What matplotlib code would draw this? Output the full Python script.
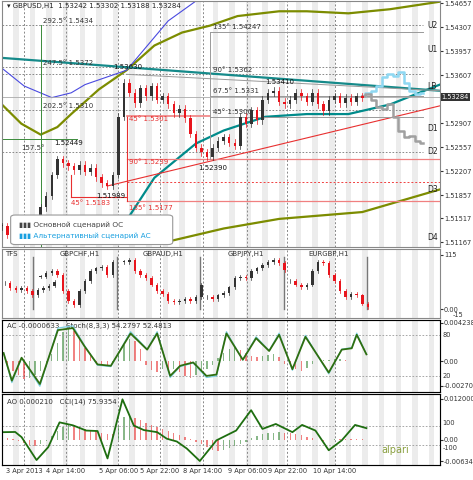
import matplotlib.pyplot as plt
import numpy as np
from matplotlib.patches import FancyBboxPatch

# main chart closes (every 2 bars)
main_bars = np.arange(0, 132, 2)
main_close = [1.5140, 1.5128, 1.5145, 1.5135, 1.5120, 1.5132, 1.5150, 1.5168, 1.5185, 1.5215, 1.5238,
              1.5232, 1.5228, 1.5222, 1.5230, 1.5220, 1.5226, 1.5212, 1.5203, 1.5199, 1.5215, 1.5300,
              1.5350, 1.5335, 1.5320, 1.5342, 1.5330, 1.5345, 1.5325, 1.5330, 1.5318, 1.5305, 1.5312,
              1.5298, 1.5275, 1.5255, 1.5248, 1.5242, 1.5255, 1.5265, 1.5270, 1.5262, 1.5258, 1.5300,
              1.5290, 1.5310, 1.5295, 1.5325, 1.5335, 1.5338, 1.5322, 1.5318, 1.5325, 1.5335, 1.5330,
              1.5322, 1.5335, 1.5318, 1.5308, 1.5325, 1.5330, 1.5320, 1.5328, 1.5322, 1.5330, 1.5328]
fc_bars = np.arange(130, 154, 2)
main_scen = [1.5330, 1.5333, 1.5325, 1.5315, 1.5312, 1.5318, 1.5300, 1.5280, 1.5270, 1.5272, 1.5265, 1.5262]
alt_scen = [1.5330, 1.5335, 1.5338, 1.5345, 1.5358, 1.5362, 1.5360, 1.5365, 1.5350, 1.5338, 1.5333, 1.5335]

band_bars = [0, 7, 14, 20, 25, 35, 45, 55, 65, 75, 85, 100, 110, 125, 140, 158]
band_up = [1.5318, 1.5290, 1.5274, 1.5285, 1.5304, 1.5340, 1.5368, 1.5404, 1.5423, 1.5433, 1.5447,
           1.5454, 1.5454, 1.5451, 1.5457, 1.5468]
mid_bars = [40, 55, 70, 80, 95, 110, 125, 140, 158]
mid_line = [1.5118, 1.5211, 1.5261, 1.5280, 1.5300, 1.5304, 1.5304, 1.5318, 1.5347]
low_bars = [60, 80, 100, 130, 158]
band_low = [1.5118, 1.5137, 1.5151, 1.5161, 1.5194]
blue_bars = [0, 8, 18, 25, 30, 45, 60, 70]
blue_line = [1.5371, 1.5345, 1.5328, 1.5335, 1.5347, 1.5368, 1.5440, 1.5469]

price_ticks = [1.54657, 1.54307, 1.53957, 1.53607, 1.52907, 1.52557, 1.52207, 1.51857, 1.51517, 1.51167]
date_pos = [8, 23, 42, 57, 72.5, 88.5, 103, 120]
date_lab = ['3 Apr 2013', '4 Apr 14:00', '5 Apr 06:00', '5 Apr 22:00', '8 Apr 14:00',
            '9 Apr 06:00', '9 Apr 22:00', '10 Apr 14:00']

tfs_names = ['TFS', 'GBPCHF,H1', 'GBPAUD,H1', 'GBPJPY,H1', 'EURGBP,H1']
tfs_start = [0, 13, 43, 73, 103]
tfs_vals = [[55, 45, 40, 45, 38, 30, 40, 45, 50, 58],
            [69, 76, 80, 73, 39, 18, 8, 39, 59, 80, 86, 90, 73, 100],
            [100, 103, 80, 73, 66, 52, 39, 32, 18, 15, 18, 22, 18, 25, 52],
            [25, 22, 29, 35, 46, 66, 69, 66, 80, 86, 93, 100, 103, 97, 83],
            [59, 52, 46, 52, 80, 100, 97, 73, 59, 39, 25, 32, 29, 12, 5]]

st_bars = [0.6, 3.6, 7.1, 13.7, 20.2, 25.6, 29.8, 34.5, 39.3, 46.4, 52.4, 56, 60.7, 64.3, 69, 73.8,
           77.4, 81, 86.9, 91.7, 96.4, 100, 104.8, 109.5, 117.9, 122.6, 126.2, 128, 131.5]
stoch = [54, 13, 47, 8, 88, 91, 64, 37, 35, 83, 59, 83, 20, 35, 40, 20,
         22, 83, 44, 76, 57, 81, 30, 78, 25, 59, 61, 81, 52]
ac_bars = np.arange(0, 132, 2)
ac = [-0.4, -0.6, -1.0, -1.5, -1.9, -1.8, -1.5, -1.0, -0.6, 0.8, 2.0, 3.2, 3.6, 3.3, 2.6, 1.5,
      0.9, -0.2, -0.3, -0.4, -0.2, 1.0, 1.8, 2.5, 2.2, 1.4, -0.4, -0.9, -1.2, -0.8, -1.0, -0.8,
      -1.2, -1.6, -1.8, -1.5, -1.2, -0.8, -0.4, 0.4, 0.9, 1.4, 1.6, 1.2, 0.9, 0.6, 0.5, 0.6,
      0.7, 0.8, 0.5, -0.3, -0.5, -0.8, -1.0, -0.7, -0.3, 0.1, 0.15, 0.2, 0.25, 0.3, 0.2, 0.1, 0.05, 0.05]
ao = [0.6, 0.4, 0.2, -0.5, -1.0, -1.5, -1.8, -1.2, -0.5, 1.0, 2.5, 3.8, 4.5, 4.2, 3.6, 3.2,
      2.8, 2.4, 2.0, 1.6, 1.5, 4.0, 6.5, 6.8, 6.2, 5.6, 5.0, 4.4, 3.8, 3.2, 2.6, 2.0,
      1.4, 0.8, 0.2, -0.6, -1.4, -2.2, -3.0, -3.5, -3.2, -2.6, -1.8, -1.2, -0.6, 0.4, 1.0, 1.5,
      1.8, 2.0, 2.2, 2.0, 1.8, 1.5, 1.2, 0.8, 0.4, 0.0, -0.3, -0.2, 0.1, 0.1, 0.1, 0.1, 0.1, 0.1]
cci_bars = [0.6, 4.8, 7.1, 12.5, 16.7, 20.8, 25.6, 30.4, 34.5, 38.1, 43.5, 47.6, 51.2, 56.0, 59.5,
            63.1, 66.7, 71.4, 77.4, 84.5, 89.9, 94.0, 98.8, 104.8, 108.3, 113.1, 117.9, 122.6,
            127.4, 131.5]
cci = [38, 40, -14, -255, -120, 141, 110, 55, 50, -238, 383, 107, 60, 38, -31,
       -60, -134, -265, -48, 55, 269, 72, 124, 38, 114, 55, -152, -48, 114, 80]

fig = plt.figure(figsize=(4.73, 4.8), dpi=100)
W, H = 473, 480
def mk(top, bot):
    return fig.add_axes([0.004, 1 - bot / H, 438 / W, (bot - top) / H])
ax1 = mk(1, 247); ax2 = mk(249, 318); ax3 = mk(320, 392); ax4 = mk(394, 465)

def style_right(ax):
    ax.yaxis.tick_right()
    ax.tick_params(labelsize=4.8, length=2, pad=1, colors='#333333')

for ax in (ax1, ax2, ax3, ax4):
    ax.set_xlim(0, 158)
    for b in range(4, 158, 6):
        ax.axvspan(b, b + 2, color='#ececec', lw=0, zorder=0)
    for p in date_pos:
        ax.axvline(p, color='#888888', ls=(0, (2, 2)), lw=0.7, zorder=1)
    style_right(ax)
    ax.set_xticks([])
    for s in ax.spines.values():
        s.set_color('#888888')

def candles(ax, xs, closes, w, wick):
    prev = closes[0]
    for x, c in zip(xs, closes):
        col = '#e8141c' if c < prev else '#333333'
        lo, hi = min(prev, c), max(prev, c)
        ax.plot([x, x], [lo - wick, hi + wick], color=col, lw=0.5, zorder=3)
        ax.bar(x, max(hi - lo, wick * 0.3), bottom=lo, width=w, color=col, lw=0, zorder=3)
        prev = c

# main panel
ax1.set_ylim(1.5110, 1.5469)
ax1.set_yticks(price_ticks)
ax1.set_yticklabels(['%.5f' % t for t in price_ticks])
ax1.plot(band_bars, band_up, color='#7c8c00', lw=1.6, zorder=2)
ax1.plot(low_bars, band_low, color='#7c8c00', lw=1.6, zorder=2)
ax1.plot(mid_bars, mid_line, color='#008b8b', lw=1.6, zorder=2)
ax1.plot(blue_bars, blue_line, color='#4a4ae0', lw=0.8, zorder=2)
ax1.plot([0, 158], [1.5386, 1.5338], color='#158a8a', lw=1.6, zorder=2)
ax1.plot([38, 158], [1.5199, 1.5316], color='#e83030', lw=0.8, zorder=2)
ax1.plot([45, 158], [1.5362, 1.5338], color='#999999', lw=0.7, zorder=2)
for y, x0 in [(1.5239, 45), (1.5177, 45)]:
    ax1.plot([x0, 158], [y, y], color='#f08080', lw=0.9, zorder=2)
ax1.plot([45, 158], [1.5205, 1.5205], color='#f04040', ls=(0, (2, 2)), lw=0.7)
ax1.plot([25, 45], [1.5183, 1.5183], color='#e83030', lw=0.8)
ax1.plot([25, 25], [1.5183, 1.5215], color='#e83030', lw=0.8)
ax1.plot([45, 45], [1.5177, 1.5301], color='#e83030', lw=0.8)
ax1.plot([45, 75], [1.5301, 1.5301], color='#f08080', lw=1.2)
ax1.plot([75, 152], [1.5300, 1.5300], color='#999999', lw=0.7)
ax1.plot([75, 152], [1.5424, 1.5424], color='#999999', lw=0.7)
ax1.plot([75, 152], [1.5331, 1.5331], color='#999999', lw=0.7)
ax1.plot([75, 75], [1.5239, 1.5424], color='#999999', lw=0.7)
ax1.plot([14, 14], [1.5110, 1.5434], color='#3a8a3a', lw=0.7)
ax1.plot([0, 27], [1.5267, 1.5267], color='#3a8a3a', lw=0.7)
for y in [1.5434, 1.5372, 1.5310, 1.5248, 1.5362]:
    ax1.plot([0, 152], [y, y], color='#777777', ls=(0, (2, 2)), lw=0.6, zorder=1)
ax1.axhline(1.53284, color='#aaaaaa', lw=0.6)
candles(ax1, main_bars, main_close, 0.9, 0.0005)
ax1.step(fc_bars, alt_scen, where='mid', color='#8fd8f2', lw=1.8)
ax1.step(fc_bars, main_scen, where='mid', color='#a0a0a0', lw=1.8)
tx = [(15, 1.5436, '292.5° 1.5434', '#333'), (15, 1.5374, '247.5° 1.5372', '#333'),
      (15, 1.5312, '202.5° 1.5310', '#333'), (7, 1.5250, '157.5°', '#333'),
      (46, 1.5292, '45° 1.5301', '#e83030'), (46, 1.5230, '90° 1.5239', '#e83030'),
      (25, 1.5170, '45° 1.5183', '#e83030'), (46, 1.5162, '135° 1.5177', '#e83030'),
      (76, 1.5426, '135° 1.54247', '#333'), (76, 1.5364, '90° 1.5362', '#333'),
      (76, 1.5333, '67.5° 1.5331', '#333'), (76, 1.5302, '45° 1.5300', '#333'),
      (19, 1.5258, '1.52449', '#111'), (40, 1.5368, '1.53630', '#111'),
      (34, 1.5180, '1.51989', '#111'), (71, 1.5221, '1.52390', '#111'), (95, 1.5346, '1.53410', '#111')]
for x, y, t, c in tx:
    ax1.text(x, y, t, fontsize=5, color=c, va='bottom')
for y, t in [(1.5430, 'U2'), (1.5395, 'U1'), (1.5340, 'LB'), (1.5280, 'D1'), (1.5245, 'D2'),
             (1.5190, 'D3'), (1.5120, 'D4')]:
    ax1.text(153.5, y, t, fontsize=5.5, color='#222')
ax1.text(2, 1.5459, '▾ GBPUSD,H1  1.53242 1.53302 1.53188 1.53284', fontsize=5, color='#222')
ax1.text(1.004, (1.53284 - 1.5110) / 0.0359, '1.53284', transform=ax1.transAxes, fontsize=4.8,
         color='white', va='center', bbox=dict(fc='#333333', ec='none', pad=0.8))
leg = FancyBboxPatch((0.03, 0.02), 0.35, 0.1, boxstyle='round,pad=0.01', transform=ax1.transAxes,
                     fc='white', ec='#999999', lw=0.8, zorder=5)
ax1.add_patch(leg)
ax1.text(0.04, 0.09, '▮▮▮ Основной сценарий ОС', transform=ax1.transAxes, fontsize=5.3, color='#444', zorder=6, va='center')
ax1.text(0.04, 0.045, '▮▮▮ Альтернативный сценарий АС', transform=ax1.transAxes, fontsize=5.3, color='#1aa0e0', zorder=6, va='center')

# TFS panel
ax2.set_ylim(-18.5, 127)
ax2.set_yticks([115, 0])
ax2.set_yticklabels(['115', '0.00'])
ax2.text(1.03, 0.02, '-15', transform=ax2.transAxes, fontsize=4.8, color='#333')
for name, s0, vals in zip(tfs_names, tfs_start, tfs_vals):
    xs = np.arange(len(vals)) * 2 + s0 + 1
    candles(ax2, xs, vals, 0.9, 4)
    if name == 'TFS':
        ax2.text(1, 112, name, fontsize=5, color='#333')
    else:
        ax2.text(s0 + 15, 112, name, fontsize=5, color='#333', ha='center')
for b in [11.4, 41.4, 71.4, 101.8, 131.8]:
    ax2.plot([b, b], [0, 110], color='#777777', lw=1)

# AC + stochastic
acv = np.array(ac) * 1e-3
accol = ['#3a8a3a' if i > 0 and acv[i] > acv[i - 1] else '#e83030' for i in range(len(acv))]
ax3.bar(ac_bars, acv, width=0.5, color=accol, alpha=0.6)
ax3b = ax3.twinx()
ax3b.set_ylim(-3.9, 103)
ax3b.set_yticks([])
ax3b.axhline(80, color='#999', ls=(0, (2, 2)), lw=0.6)
ax3b.axhline(20, color='#999', ls=(0, (2, 2)), lw=0.6)
ax3b.plot(st_bars, np.clip(np.array(stoch) * 1.08 - 4, 0, 100), color='#7fd0e0', lw=0.9)
ax3b.plot(st_bars, stoch, color='#2f6e10', lw=1.3)
for v, t in [(80, '80'), (20, '20')]:
    ax3b.text(1.006, (v + 3.9) / 106.9, t, transform=ax3b.transAxes, fontsize=4.8, va='center', color='#333')
ax3.text(2, 0.0037, 'AC -0.0000633   Stoch(8,3,3) 54.2797 52.4813', fontsize=5, color='#333')
ax3b.set_xlim(0, 158)
style_right(ax3)
ax3.set_ylim(-0.00336, 0.00455)
ax3.set_yticks([0.004238, 0, -0.0027])
ax3.set_yticklabels(['0.004238', '0.00', '-0.00270'])

# AO + CCI
aov = np.array(ao) * 1e-3
aocol = ['#3a8a3a' if i > 0 and aov[i] > aov[i - 1] else '#e83030' for i in range(len(aov))]
ax4.bar(ac_bars, aov, width=0.5, color=aocol, alpha=0.6)
ax4b = ax4.twinx()
ax4b.set_ylim(-307, 439)
ax4b.set_yticks([])
ax4b.axhline(100, color='#999', ls=(0, (2, 2)), lw=0.6)
ax4b.axhline(-100, color='#999', ls=(0, (2, 2)), lw=0.6)
ax4b.plot(cci_bars, cci, color='#1e6e10', lw=1.3)
for v, t in [(100, '100'), (-100, '-100')]:
    ax4b.text(1.006, (v + 307) / 746 + (0.04 if v > 0 else -0.04), t, transform=ax4b.transAxes,
              fontsize=4.8, va='center', color='#333')
ax4b.set_xlim(0, 158)
ax4.text(2, 0.0105, 'AO 0.000210   CCI(14) 75.9354', fontsize=5, color='#333')
ax4.text(142, -0.004, 'alpari', fontsize=7, color='#8aa040', ha='center')
style_right(ax4)
ax4.set_ylim(-0.0075, 0.0134)
ax4.set_yticks([0.012, 0, -0.00634])
ax4.set_yticklabels(['0.012000', '0.00', '-0.00634'])

ax4.set_xticks(date_pos)
ax4.set_xticklabels(date_lab, fontsize=4.8)
ax4.tick_params(axis='x', length=0, pad=2)

fig.savefig('out.png', dpi=100)
